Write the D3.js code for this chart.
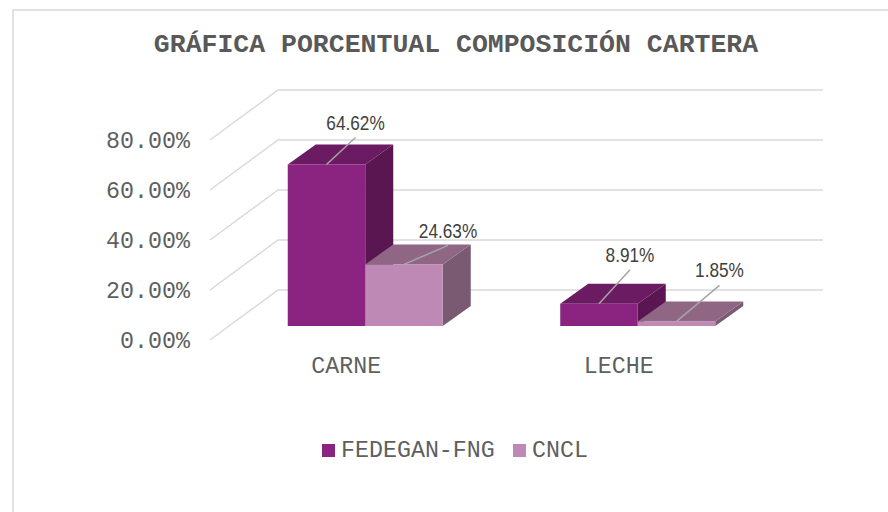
<!DOCTYPE html>
<html>
<head>
<meta charset="utf-8">
<script src="https://cdn.jsdelivr.net/npm/d3@7"></script>
<style>
  html, body { margin: 0; padding: 0; background: #ffffff; }
  svg { display: block; }
</style>
</head>
<body>
<svg id="chart" width="888" height="512"></svg>
<script>
// Portfolio composition by product line and fund
const categories = ["CARNE", "LECHE"];
const seriesNames = ["FEDEGAN-FNG", "CNCL"];
const fedeganValues = [64.62, 8.91];
const cnclValues = [24.63, 1.85];
const yTicks = [0, 20, 40, 60, 80];
const yTickLabels = ["0.00%", "20.00%", "40.00%", "60.00%", "80.00%"];

// Label placement relative to each bar's front-top centre (series-major order)
const labelShift = [[[29, -42], [31, -49]], [[44, -34], [43, -51]]];

const seriesValues = [fedeganValues, cnclValues];
const palette = [
  { front: "#8b2381", top: "#6b1b61", side: "#5a1651" },
  { front: "#bf89b6", top: "#8f6785", side: "#7a5a72" }
];

const monoFont = "'Courier New', 'Nimbus Mono PS', 'Nimbus Mono L', FreeMono, 'Liberation Mono', monospace";
const sansFont = "'Liberation Sans', Arial, sans-serif";
const textGrey = "#5f5f5f";
const gridGrey = "#d9d9d9";

const svg = d3.select("#chart");

// Outer chart frame
svg.append("path")
  .attr("d", "M13,512 L13,10 L888,10")
  .attr("fill", "none")
  .attr("stroke", gridGrey)
  .attr("stroke-width", 1.5);

// Title
svg.append("text")
  .attr("x", 456)
  .attr("y", 45)
  .attr("text-anchor", "middle")
  .attr("dominant-baseline", "central")
  .attr("font-family", monoFont)
  .attr("font-weight", "bold")
  .attr("font-size", 26.5)
  .attr("fill", "#595959")
  .text("GRÁFICA PORCENTUAL COMPOSICIÓN CARTERA");

// Front plane of the 3-D plot and its depth vector
const plotLeft = 210, plotRight = 755;
const depth = [68, -50];          // full floor depth
const barOffset = [19, -14];      // where the bar fronts sit inside the depth
const barDepth = [28, -20];       // thickness of each bar

const x = d3.scaleBand().domain(categories).range([plotLeft, plotRight]);
const y = d3.scaleLinear().domain([0, 80]).range([340, 140]);
const barW = 77.5;
const inner = d3.scaleBand().domain(seriesNames).range([-barW, barW]);

// Gridlines: side wall diagonals and back wall horizontals
const grid = svg.append("g").attr("fill", "none").attr("stroke", gridGrey).attr("stroke-width", 1.5);
yTicks.forEach(v => {
  const y0 = y(v);
  grid.append("path")
    .attr("d", `M${plotLeft},${y0} L${plotLeft + depth[0]},${y0 + depth[1]} L${plotRight + depth[0]},${y0 + depth[1]}`);
});

// Y axis labels
const yAxis = d3.axisLeft(y)
  .tickValues(yTicks)
  .tickFormat((d, i) => yTickLabels[i])
  .tickSize(0)
  .tickPadding(20);
const yAxisG = svg.append("g")
  .attr("transform", `translate(${plotLeft},0)`)
  .call(yAxis);
yAxisG.select(".domain").remove();
yAxisG.selectAll("text")
  .attr("font-family", monoFont)
  .attr("font-size", 23.3)
  .attr("fill", textGrey)
  .attr("dy", "0.3em");

// Bars
const bars = svg.append("g");
const anchors = [];
seriesNames.forEach((s, si) => {
  anchors.push([]);
  categories.forEach((c, ci) => {
    const v = seriesValues[si][ci];
    const x0 = x(c) + x.bandwidth() / 2 + inner(s) + barOffset[0];
    const w = inner.bandwidth();
    const yT = y(v) + barOffset[1];
    const yB = y(0) + barOffset[1];
    const dx = barDepth[0], dy = barDepth[1];
    const col = palette[si];
    const g = bars.append("g");
    g.append("path")
      .attr("d", `M${x0 + w},${yT} L${x0 + w + dx},${yT + dy} L${x0 + w + dx},${yB + dy} L${x0 + w},${yB} Z`)
      .attr("fill", col.side);
    g.append("path")
      .attr("d", `M${x0},${yT} L${x0 + w},${yT} L${x0 + w + dx},${yT + dy} L${x0 + dx},${yT + dy} Z`)
      .attr("fill", col.top);
    g.append("rect")
      .attr("x", x0)
      .attr("y", yT)
      .attr("width", w)
      .attr("height", yB - yT)
      .attr("fill", col.front);
    anchors[si].push([x0 + w / 2, yT]);
  });
});

// Data labels with leader lines (condensed sans)
const labels = svg.append("g");
seriesNames.forEach((s, si) => {
  categories.forEach((c, ci) => {
    const v = seriesValues[si][ci];
    const [ax, ay] = anchors[si][ci];
    const lx = ax + labelShift[si][ci][0];
    const ly = ay + labelShift[si][ci][1];
    labels.append("line")
      .attr("x1", lx).attr("y1", ly + 15)
      .attr("x2", ax).attr("y2", ay)
      .attr("stroke", "#a6a6a6")
      .attr("stroke-width", 1.5);
    labels.append("text")
      .attr("transform", `translate(${lx},${ly}) scale(0.82,1)`)
      .attr("text-anchor", "middle")
      .attr("dominant-baseline", "central")
      .attr("font-family", sansFont)
      .attr("font-size", 21)
      .attr("fill", "#404040")
      .text(v.toFixed(2) + "%");
  });
});

// Category labels
svg.append("g").selectAll("text")
  .data(categories)
  .join("text")
  .attr("x", d => x(d) + x.bandwidth() / 2)
  .attr("y", 367)
  .attr("text-anchor", "middle")
  .attr("dominant-baseline", "central")
  .attr("font-family", monoFont)
  .attr("font-size", 23.3)
  .attr("fill", textGrey)
  .text(d => d);

// Legend
const legendItems = [
  { name: seriesNames[0], x: 322 },
  { name: seriesNames[1], x: 513 }
];
const legend = svg.append("g");
legendItems.forEach((item, i) => {
  legend.append("rect")
    .attr("x", item.x)
    .attr("y", 444)
    .attr("width", 13)
    .attr("height", 13)
    .attr("fill", palette[i].front);
  legend.append("text")
    .attr("x", item.x + 19)
    .attr("y", 450.5)
    .attr("dominant-baseline", "central")
    .attr("font-family", monoFont)
    .attr("font-size", 23.3)
    .attr("fill", textGrey)
    .text(item.name);
});
</script>
</body>
</html>
